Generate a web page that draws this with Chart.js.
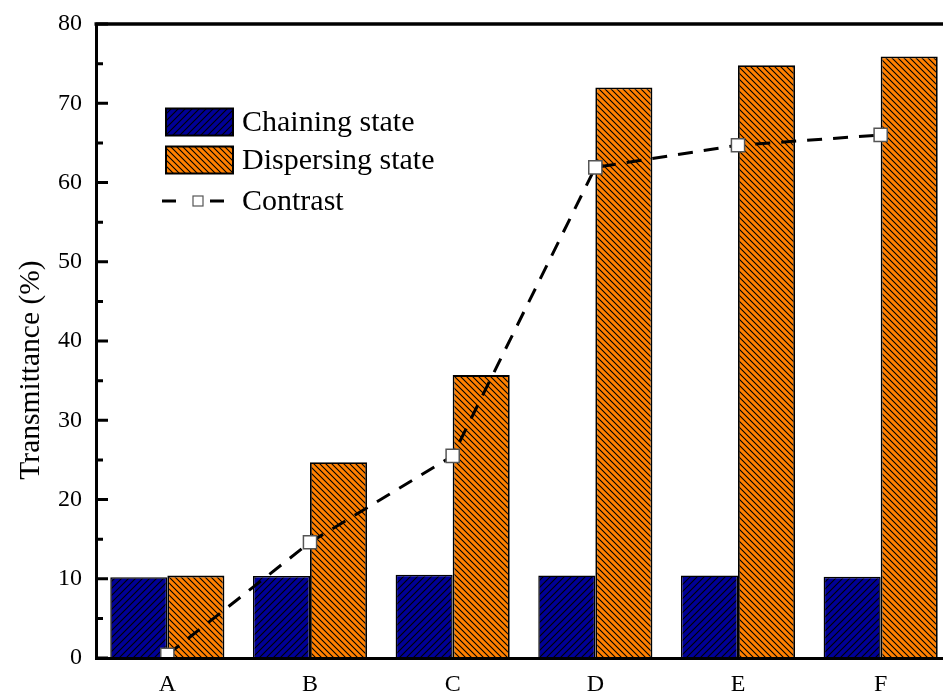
<!DOCTYPE html>
<html>
<head>
<meta charset="utf-8">
<script src="https://cdn.jsdelivr.net/npm/chart.js@4/dist/chart.umd.min.js"></script>
<style>
  html, body { margin: 0; padding: 0; background: #fff; overflow: hidden; }
  #wrap { position: relative; width: 1000px; height: 696px; }
</style>
</head>
<body>
<div id="wrap"><canvas id="c" width="1000" height="696"></canvas></div>
<script>
// Transmittance of each sample in the two states, and their difference
const categories = ['A', 'B', 'C', 'D', 'E', 'F'];
const chainingState = [10.2, 10.35, 10.5, 10.4, 10.4, 10.25];
const dispersingState = [10.4, 24.7, 35.7, 72.0, 74.8, 75.9];
const contrast = [0.4, 14.6, 25.5, 61.9, 64.7, 66.0];
const yTickValues = [0, 10, 20, 30, 40, 50, 60, 70, 80];
const yTitle = 'Transmittance (%)';

const SERIF = '"Liberation Serif", "Times New Roman", serif';
const NAVY = '#000096';
const ORANGE = '#FF8000';

// Diagonal hatch fill: dir > 0 draws "/", otherwise "\"
function hatch(bg, dir, step) {
  const c = document.createElement('canvas');
  c.width = c.height = step;
  const g = c.getContext('2d');
  g.fillStyle = bg;
  g.fillRect(0, 0, step, step);
  g.strokeStyle = '#000';
  g.lineWidth = 1.1;
  g.beginPath();
  if (dir > 0) {
    g.moveTo(-1, step + 1); g.lineTo(step + 1, -1);
    g.moveTo(-1, 1); g.lineTo(1, -1);
    g.moveTo(step - 1, step + 1); g.lineTo(step + 1, step - 1);
  } else {
    g.moveTo(-1, -1); g.lineTo(step + 1, step + 1);
    g.moveTo(step - 1, -1); g.lineTo(step + 1, 1);
    g.moveTo(-1, step - 1); g.lineTo(1, step + 1);
  }
  g.stroke();
  return g.createPattern(c, 'repeat');
}

const chainFill = hatch(NAVY, 1, 7);
const dispFill = hatch(ORANGE, -1, 6);

// Inward ticks on the left axis, the closing top frame line and the axis title
const framePlugin = {
  id: 'frame',
  afterDatasetsDraw(chart) {
    const { ctx, chartArea: a, scales: { y } } = chart;
    ctx.save();
    ctx.strokeStyle = '#000';
    ctx.lineWidth = 3;
    ctx.beginPath();
    for (let i = 0; i < yTickValues.length; i++) {
      const py = y.getPixelForValue(yTickValues[i]);
      ctx.moveTo(a.left, py); ctx.lineTo(a.left + 12, py);
      if (i < yTickValues.length - 1) {
        const my = y.getPixelForValue((yTickValues[i] + yTickValues[i + 1]) / 2);
        ctx.moveTo(a.left, my); ctx.lineTo(a.left + 7, my);
      }
    }
    ctx.stroke();
    ctx.lineWidth = 3.5;
    ctx.beginPath();
    ctx.moveTo(a.left - 1.5, a.top);
    ctx.lineTo(a.right, a.top);
    ctx.stroke();

    ctx.translate(31, 370);
    ctx.rotate(-Math.PI / 2);
    ctx.font = '29.5px ' + SERIF;
    ctx.fillStyle = '#000';
    ctx.textAlign = 'center';
    ctx.textBaseline = 'middle';
    ctx.fillText(yTitle, 0, 0);
    ctx.restore();
  }
};

// Legend drawn inside the plot area from the dataset styles
const insetLegend = {
  id: 'insetLegend',
  afterDraw(chart) {
    const { ctx } = chart;
    const ds = chart.data.datasets;
    const x0 = 166, textX = 242;
    const rows = [122, 160, 201];
    ctx.save();
    ctx.font = '30px ' + SERIF;
    ctx.fillStyle = '#000';
    ctx.textBaseline = 'middle';
    ctx.textAlign = 'left';
    for (let i = 0; i < 2; i++) {
      const cy = rows[i];
      ctx.fillStyle = ds[i].backgroundColor;
      ctx.fillRect(x0, cy - 13.5, 67, 27);
      ctx.strokeStyle = '#000';
      ctx.lineWidth = 2;
      ctx.strokeRect(x0, cy - 13.5, 67, 27);
      ctx.fillStyle = '#000';
      ctx.fillText(ds[i].label, textX, cy + 1);
    }
    const ly = rows[2];
    ctx.strokeStyle = ds[2].borderColor;
    ctx.lineWidth = 3;
    ctx.beginPath();
    ctx.moveTo(162, ly); ctx.lineTo(176, ly);
    ctx.moveTo(210, ly); ctx.lineTo(224, ly);
    ctx.stroke();
    ctx.fillStyle = ds[2].pointBackgroundColor;
    ctx.strokeStyle = ds[2].pointBorderColor;
    ctx.lineWidth = 1.2;
    ctx.fillRect(193, ly - 5, 10, 10);
    ctx.strokeRect(193, ly - 5, 10, 10);
    ctx.fillStyle = '#000';
    ctx.fillText(ds[2].label, textX, ly + 1);
    ctx.restore();
  }
};

new Chart(document.getElementById('c'), {
  data: {
    labels: categories,
    datasets: [
      {
        type: 'bar',
        label: 'Chaining state',
        data: chainingState,
        backgroundColor: chainFill,
        borderColor: '#000',
        borderWidth: 1.5,
        categoryPercentage: 0.8,
        barPercentage: 1.0,
        order: 2
      },
      {
        type: 'bar',
        label: 'Dispersing state',
        data: dispersingState,
        backgroundColor: dispFill,
        borderColor: '#000',
        borderWidth: 1.8,
        categoryPercentage: 0.8,
        barPercentage: 1.0,
        order: 2
      },
      {
        type: 'line',
        label: 'Contrast',
        data: contrast,
        borderColor: '#000',
        borderWidth: 3,
        borderDash: [15, 11],
        tension: 0,
        fill: false,
        pointStyle: 'rect',
        pointRadius: 9.3,
        pointBackgroundColor: '#fff',
        pointBorderColor: '#555',
        pointBorderWidth: 1.5,
        order: 1
      }
    ]
  },
  options: {
    responsive: false,
    animation: false,
    events: [],
    layout: { padding: { top: 24, right: 48, left: 0, bottom: 0 } },
    plugins: {
      legend: { display: false },
      tooltip: { enabled: false }
    },
    scales: {
      x: {
        type: 'category',
        offset: true,
        grid: { display: false, drawTicks: false },
        border: { display: true, color: '#000', width: 3, z: 1 },
        ticks: { color: '#000', padding: 12, font: { family: SERIF, size: 24 } },
        afterFit(s) { s.height = 38; s.paddingLeft = 0; s.paddingRight = 0; }
      },
      y: {
        min: 0,
        max: 80,
        afterBuildTicks(s) { s.ticks = yTickValues.map(v => ({ value: v })); },
        grid: { display: false, drawTicks: false },
        border: { display: true, color: '#000', width: 3, z: 1 },
        ticks: { color: '#000', padding: 14, font: { family: SERIF, size: 24 } },
        title: { display: false },
        afterFit(s) { s.width = 96; s.paddingTop = 0; s.paddingBottom = 0; }
      }
    }
  },
  plugins: [framePlugin, insetLegend]
});
</script>
</body>
</html>
